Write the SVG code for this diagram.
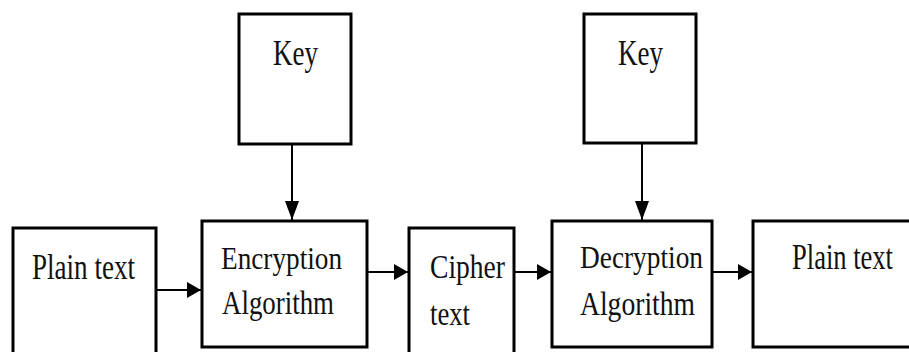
<svg xmlns="http://www.w3.org/2000/svg" width="909" height="352" viewBox="0 0 909 352">
  <style>
    .box { fill: #fff; stroke: #000; stroke-width: 3; }
    .lbl { font-family: "Liberation Serif", "Times New Roman", serif; fill: #111; }
    .wire { stroke: #000; stroke-width: 2; fill: none; }
  </style>
  <defs>
    <marker id="arrowH" markerUnits="userSpaceOnUse" markerWidth="16" markerHeight="16" refX="14" refY="8" orient="auto">
      <path d="M0,0 L14,8 L0,16 Z" fill="#000"/>
    </marker>
    <marker id="arrowV" markerUnits="userSpaceOnUse" markerWidth="20" markerHeight="14" refX="19" refY="7" orient="auto">
      <path d="M0,0 L19,7 L0,14 Z" fill="#000"/>
    </marker>
  </defs>
  <rect width="909" height="352" fill="#fff"/>

  <g id="connectors">
    <line class="wire" x1="156" y1="290" x2="201" y2="290" marker-end="url(#arrowH)"/>
    <line class="wire" x1="367" y1="272" x2="408" y2="272" marker-end="url(#arrowH)"/>
    <line class="wire" x1="514" y1="272" x2="551" y2="272" marker-end="url(#arrowH)"/>
    <line class="wire" x1="712" y1="272" x2="752" y2="272" marker-end="url(#arrowH)"/>
    <line class="wire" x1="292" y1="144" x2="292" y2="220" marker-end="url(#arrowV)"/>
    <line class="wire" x1="642" y1="143" x2="642" y2="220" marker-end="url(#arrowV)"/>
  </g>

  <g id="key-encrypt">
    <rect class="box" x="239" y="14" width="112" height="130"/>
    <text class="lbl" x="273" y="65" font-size="36" textLength="45" lengthAdjust="spacingAndGlyphs">Key</text>
  </g>

  <g id="key-decrypt">
    <rect class="box" x="584" y="14" width="112" height="129"/>
    <text class="lbl" x="618" y="65" font-size="36" textLength="45" lengthAdjust="spacingAndGlyphs">Key</text>
  </g>

  <g id="plain-in">
    <rect class="box" x="13" y="228" width="143" height="140"/>
    <text class="lbl" x="32" y="279" font-size="36" textLength="103" lengthAdjust="spacingAndGlyphs">Plain text</text>
  </g>

  <g id="encryption">
    <rect class="box" x="202" y="221" width="165" height="126"/>
    <text class="lbl" x="221" y="269" font-size="32" textLength="121" lengthAdjust="spacingAndGlyphs">Encryption</text>
    <text class="lbl" x="222" y="314" font-size="33" textLength="112" lengthAdjust="spacingAndGlyphs">Algorithm</text>
  </g>

  <g id="cipher">
    <rect class="box" x="409" y="228" width="105" height="140"/>
    <text class="lbl" x="430" y="278" font-size="34" textLength="75" lengthAdjust="spacingAndGlyphs">Cipher</text>
    <text class="lbl" x="430" y="325" font-size="34" textLength="40" lengthAdjust="spacingAndGlyphs">text</text>
  </g>

  <g id="decryption">
    <rect class="box" x="552" y="221" width="160" height="126"/>
    <text class="lbl" x="580" y="268" font-size="32" textLength="123" lengthAdjust="spacingAndGlyphs">Decryption</text>
    <text class="lbl" x="580" y="315" font-size="33" textLength="115" lengthAdjust="spacingAndGlyphs">Algorithm</text>
  </g>

  <g id="plain-out">
    <!-- box runs past the right edge, so only three sides are drawn -->
    <path class="box" d="M909,221 H753 V347 H909"/>
    <text class="lbl" x="792" y="269" font-size="35" textLength="101" lengthAdjust="spacingAndGlyphs">Plain text</text>
  </g>
</svg>
